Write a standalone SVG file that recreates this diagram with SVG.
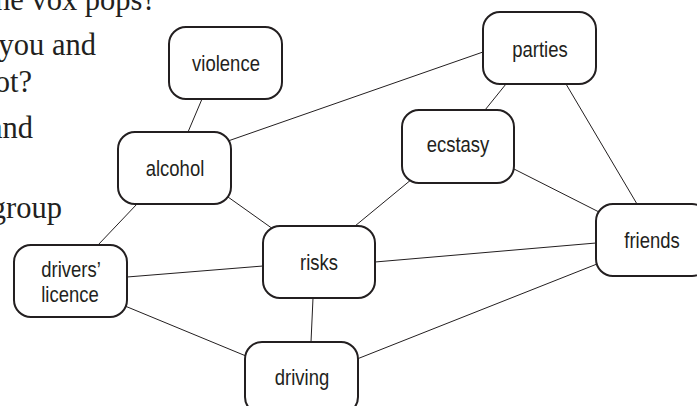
<svg xmlns="http://www.w3.org/2000/svg" width="697" height="406" viewBox="0 0 697 406">
<style>
.bg{fill:#ffffff}
.prose{font-family:"Liberation Serif","Times New Roman",serif;font-size:30.5px;fill:#231f20;text-anchor:end}
.box{fill:#ffffff;stroke:#231f20;stroke-width:2}
.lbl{font-family:"Liberation Sans",Arial,sans-serif;font-size:21.5px;fill:#231f20;text-anchor:middle}
.edge{stroke:#231f20;stroke-width:1;fill:none}
</style>
<rect class="bg" x="0" y="0" width="697" height="406"/>
<g id="prose">
<text class="prose" x="156" y="10">the vox pops?</text>
<text class="prose" x="96" y="55">you and</text>
<text class="prose" x="32" y="92">ot?</text>
<text class="prose" x="33" y="138">and</text>
<text class="prose" x="62" y="218">group</text>
</g>
<g id="connectors">
<line class="edge" x1="202" y1="99" x2="188" y2="132"/>
<line class="edge" x1="228" y1="141" x2="483" y2="52"/>
<line class="edge" x1="228" y1="197" x2="273" y2="229"/>
<line class="edge" x1="137" y1="204" x2="98" y2="245"/>
<line class="edge" x1="412" y1="179" x2="355" y2="226"/>
<line class="edge" x1="506" y1="84" x2="485" y2="110"/>
<line class="edge" x1="566" y1="84" x2="637" y2="204"/>
<line class="edge" x1="514" y1="169" x2="599" y2="212"/>
<line class="edge" x1="375" y1="262" x2="596" y2="243"/>
<line class="edge" x1="597" y1="264" x2="357" y2="359"/>
<line class="edge" x1="313" y1="298" x2="311" y2="342"/>
<line class="edge" x1="127" y1="277" x2="263" y2="266"/>
<line class="edge" x1="125" y1="306" x2="246" y2="356"/>
</g>
<g id="node-violence">
<rect class="box" x="169" y="27" width="113" height="72" rx="17"/>
<text class="lbl" transform="translate(226 71) scale(0.86 1)">violence</text>
</g>
<g id="node-alcohol">
<rect class="box" x="118" y="132" width="113" height="72" rx="17"/>
<text class="lbl" transform="translate(175 176) scale(0.86 1)">alcohol</text>
</g>
<g id="node-parties">
<rect class="box" x="483" y="12" width="113" height="72" rx="17"/>
<text class="lbl" transform="translate(540 57) scale(0.86 1)">parties</text>
</g>
<g id="node-ecstasy">
<rect class="box" x="402" y="110" width="112" height="73" rx="17"/>
<text class="lbl" transform="translate(458 152) scale(0.86 1)">ecstasy</text>
</g>
<g id="node-friends">
<rect class="box" x="596" y="204" width="113" height="72" rx="17"/>
<text class="lbl" transform="translate(652 248) scale(0.86 1)">friends</text>
</g>
<g id="node-risks">
<rect class="box" x="263" y="226" width="112" height="72" rx="17"/>
<text class="lbl" transform="translate(319 270) scale(0.86 1)">risks</text>
</g>
<g id="node-drivers-licence">
<rect class="box" x="14" y="245" width="113" height="72" rx="17"/>
<text class="lbl" transform="translate(71 277) scale(0.86 1)">drivers’</text>
<text class="lbl" transform="translate(70 302) scale(0.86 1)">licence</text>
</g>
<g id="node-driving">
<rect class="box" x="245" y="342" width="113" height="72" rx="17"/>
<text class="lbl" transform="translate(302 385) scale(0.86 1)">driving</text>
</g>
</svg>
